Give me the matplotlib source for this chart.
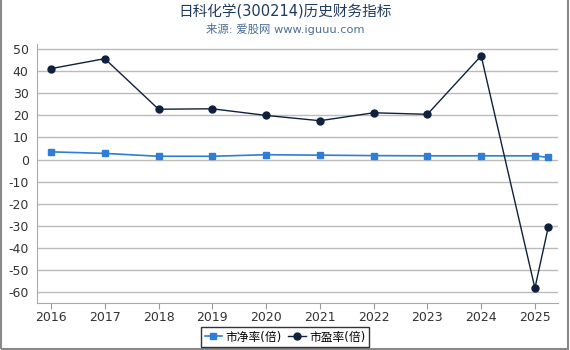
import matplotlib
matplotlib.use("Agg")
import matplotlib.pyplot as plt

plt.rcParams['font.family'] = ['DejaVu Sans', 'Noto Sans CJK SC']
plt.rcParams['axes.unicode_minus'] = False

# data
years = [2016, 2017, 2018, 2019, 2020, 2021, 2022, 2023, 2024, 2025, 2025.25]
pb = [3.5, 2.8, 1.5, 1.5, 2.2, 2.0, 1.8, 1.7, 1.7, 1.7, 1.0]
pe = [41.2, 45.7, 22.8, 23.0, 20.0, 17.6, 21.2, 20.5, 47.0, -58.2, -30.4]
xticks = [2016, 2017, 2018, 2019, 2020, 2021, 2022, 2023, 2024, 2025]
yticks = list(range(-60, 51, 10))

fig = plt.figure(figsize=(5.7, 3.5), dpi=100)
ax = fig.add_axes([0.065, 0.134, 0.914, 0.74])

ax.plot(years, pb, color='#2e7dd6', marker='s', markersize=5, linewidth=1.2,
        label='市净率(倍)', zorder=3)
ax.plot(years, pe, color='#0f213d', marker='o', markersize=5, linewidth=1.0,
        label='市盈率(倍)', zorder=4)

ax.set_xlim(2015.74, 2025.43)
ax.set_ylim(-65, 52.3)
ax.set_xticks(xticks)
ax.set_yticks(yticks)
ax.tick_params(axis='y', length=0, labelsize=9, colors='#333333', pad=6)
ax.tick_params(axis='x', length=4, labelsize=9, colors='#333333', pad=2)
ax.tick_params(axis='x', color='#999999')
ax.grid(axis='y', color='#bbbbbb', linewidth=1)
for s in ['top', 'right']:
    ax.spines[s].set_visible(False)
ax.spines['left'].set_color('#aaaaaa')
ax.spines['bottom'].set_color('#aaaaaa')

fig.text(0.5, 0.965, '日科化学(300214)历史财务指标', ha='center', va='center',
         fontsize=10.5, color='#1f3b5e')
fig.text(0.5, 0.918, '来源: 爱股网 www.iguuu.com', ha='center', va='center',
         fontsize=8.2, color='#4c6f96')

leg = fig.legend(loc='center', bbox_to_anchor=(0.5, 0.037), ncol=2, fontsize=8.5,
                 frameon=True, fancybox=False, handlelength=1.5,
                 columnspacing=0.5, handletextpad=0.3, borderpad=0.3)
leg.get_frame().set_edgecolor('black')
leg.get_frame().set_linewidth(1)

border = plt.Rectangle((0.001, 0.004), 0.996, 1.2, transform=fig.transFigure,
                       fill=False, edgecolor='#888888', linewidth=1.5)
fig.add_artist(border)

fig.savefig('out.png', dpi=100)
